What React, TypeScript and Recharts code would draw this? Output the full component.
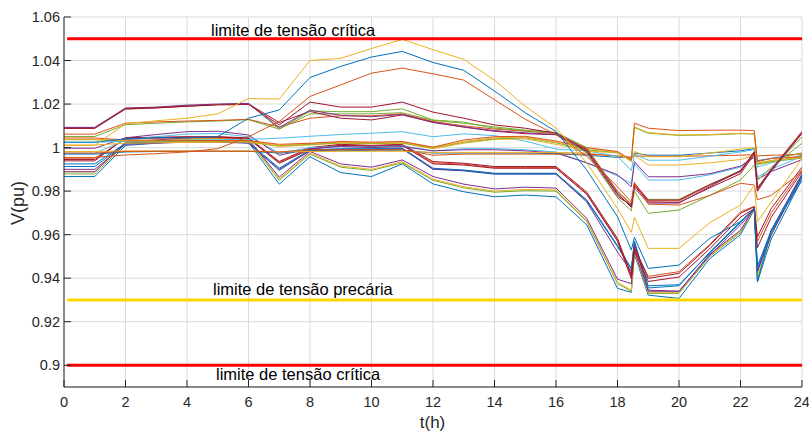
import React from 'react';
import { LineChart, Line, XAxis, YAxis, CartesianGrid, ReferenceLine } from 'recharts';

// time instants (h); the step at 18.5 h and 22.5 h is drawn with two close samples
const hours = [0, 1, 2, 3, 4, 5, 6, 7, 8, 9, 10, 11, 12, 13, 14, 15, 16, 17, 18, 18.45, 18.55, 19, 20, 21, 22, 22.45, 22.55, 23, 24];

const yellowPeak = [1.001, 1.001, 1.011, 1.0123, 1.0135, 1.0155, 1.0225, 1.0223, 1.040, 1.041, 1.0455, 1.0497, 1.045, 1.0405, 1.031, 1.019, 1.009, 0.993, 0.972, 0.961, 0.968, 0.9537, 0.9537, 0.9655, 0.9736, 0.9828, 0.966, 0.975, 0.995];
const bluePeak = [1.0025, 1.0025, 1.004, 1.0045, 1.0045, 1.005, 1.0135, 1.0173, 1.0322, 1.0373, 1.0416, 1.0442, 1.0391, 1.0355, 1.026, 1.016, 1.0074, 0.9897, 0.9682, 0.9529, 0.9588, 0.9445, 0.946, 0.9583, 0.966, 0.972, 0.9383, 0.962, 0.985];
const orangePeak = [0.9955, 0.9955, 0.9966, 0.9972, 0.998, 0.9995, 1.005, 1.012, 1.0235, 1.0288, 1.0342, 1.0365, 1.0339, 1.031, 1.022, 1.013, 1.006, 0.996, 0.982, 0.975, 0.984, 0.974, 0.9736, 0.978, 0.9836, 0.9828, 0.976, 0.978, 0.989];
const purpleTop = [1.0093, 1.0093, 1.0182, 1.0186, 1.0195, 1.020, 1.0203, 1.0092, 1.0172, 1.0148, 1.0142, 1.0152, 1.0115, 1.0095, 1.0078, 1.0068, 1.006, 0.9985, 0.9785, 0.973, 0.9815, 0.9745, 0.9745, 0.982, 0.9895, 0.998, 0.981, 0.989, 1.0065];
const greenTop = [1.009, 1.009, 1.018, 1.0185, 1.0192, 1.0198, 1.0202, 1.0085, 1.0168, 1.0165, 1.0165, 1.0178, 1.0127, 1.0117, 1.0089, 1.0078, 1.0066, 0.9975, 0.977, 0.971, 0.98, 0.9698, 0.9713, 0.978, 0.9851, 0.992, 0.985, 0.991, 1.002];
const redTop = [1.0088, 1.0088, 1.0178, 1.0183, 1.019, 1.0196, 1.0198, 1.0104, 1.0209, 1.0186, 1.0186, 1.0209, 1.0163, 1.0135, 1.0104, 1.0089, 1.0066, 0.999, 0.979, 0.9725, 0.9836, 0.9759, 0.9759, 0.983, 0.989, 0.9982, 0.9813, 0.99, 1.0066];
const redTop2 = [1.0092, 1.0092, 1.0177, 1.0182, 1.019, 1.0198, 1.0201, 1.0115, 1.0166, 1.0135, 1.0127, 1.015, 1.0117, 1.0094, 1.0075, 1.0064, 1.0059, 0.998, 0.9775, 0.9735, 0.9825, 0.975, 0.9748, 0.9815, 0.988, 0.997, 0.98, 0.9895, 1.007];
const orangeHigh = [1.0062, 1.0062, 1.0112, 1.0118, 1.0122, 1.0125, 1.013, 1.0095, 1.0135, 1.0146, 1.0146, 1.0155, 1.012, 1.01, 1.0085, 1.0075, 1.0065, 0.9995, 0.98, 0.974, 0.983, 0.9755, 0.9755, 0.9825, 0.989, 0.997, 0.98, 0.99, 1.0075];
const greenHigh = [1.0051, 1.0051, 1.0105, 1.0112, 1.0118, 1.0122, 1.0128, 1.0085, 1.0155, 1.0155, 1.0155, 1.016, 1.0125, 1.0112, 1.0095, 1.008, 1.007, 1.0, 0.9795, 0.9735, 0.983, 0.9762, 0.9762, 0.983, 0.9895, 0.998, 0.9815, 0.99, 1.005];
const orangeFlat = [1.0044, 1.0044, 1.0035, 1.0034, 1.0033, 1.0032, 1.0032, 1.0015, 1.002, 1.0028, 1.0025, 1.0028, 1.0002, 1.0035, 1.005, 1.0052, 1.003, 1.0, 0.9982, 0.9943, 1.0112, 1.0089, 1.0078, 1.008, 1.008, 1.0078, 0.9936, 0.995, 0.9958];
const yellowFlat = [1.0038, 1.0038, 1.0032, 1.0031, 1.003, 1.003, 1.003, 1.001, 1.0018, 1.0025, 1.0022, 1.0025, 1.0, 1.0028, 1.0045, 1.0048, 1.0025, 0.9995, 0.998, 0.9935, 1.0095, 1.0069, 1.0058, 1.006, 1.0066, 1.0064, 0.9929, 0.994, 0.9955];
const greenFlat = [1.0036, 1.0036, 1.003, 1.003, 1.0029, 1.0029, 1.0029, 1.0008, 1.0015, 1.0022, 1.002, 1.0022, 0.9998, 1.0025, 1.004, 1.0045, 1.0022, 0.999, 0.9978, 0.9938, 1.0092, 1.0066, 1.0056, 1.0058, 1.0064, 1.0062, 0.9925, 0.9935, 0.9952];
const yellowMid = [1.0012, 1.0012, 1.002, 1.0022, 1.0024, 1.0025, 1.0025, 1.0005, 1.0012, 1.002, 1.0018, 1.002, 0.9995, 1.002, 1.0038, 1.004, 1.0015, 0.9985, 0.9975, 0.9945, 0.9982, 0.9958, 0.9958, 0.9975, 0.9993, 1.0, 0.993, 0.994, 0.9975];
const lightBlueHigh = [1.0023, 1.0023, 1.003, 1.0032, 1.0034, 1.0036, 1.0038, 1.0043, 1.0052, 1.006, 1.0066, 1.0073, 1.005, 1.0063, 1.0055, 1.003, 0.9993, 0.9985, 0.996, 0.9895, 0.997, 0.9942, 0.9942, 0.996, 0.998, 0.999, 0.991, 0.993, 0.9965];
const orangeLevel = [0.9975, 0.9975, 0.9982, 0.9983, 0.9983, 0.9983, 0.9983, 0.998, 0.999, 0.999, 0.999, 0.999, 0.9965, 0.997, 0.997, 0.997, 0.997, 0.997, 0.9962, 0.9955, 0.9962, 0.996, 0.996, 0.9962, 0.9965, 0.9968, 0.9962, 0.9965, 0.9968];
const yellowLevel = [0.9982, 0.9982, 0.9985, 0.9985, 0.9985, 0.9985, 0.9985, 0.998, 0.9982, 0.9983, 0.9983, 0.9983, 0.9978, 0.9978, 0.9978, 0.9978, 0.9978, 0.9975, 0.996, 0.995, 0.9965, 0.992, 0.992, 0.993, 0.9945, 0.9965, 0.992, 0.9935, 0.996];
const blueLevel = [0.997, 0.997, 0.998, 0.9982, 0.9983, 0.9983, 0.9983, 0.9975, 0.9985, 0.9985, 0.9988, 0.9988, 0.9975, 0.9975, 0.9975, 0.9975, 0.9972, 0.9965, 0.9955, 0.9955, 0.9975, 0.9965, 0.9965, 0.9975, 0.9985, 0.9995, 0.994, 0.995, 0.9975];
const purpleMid = [0.9997, 0.9997, 1.0045, 1.006, 1.0073, 1.0075, 1.0058, 0.9965, 0.9995, 1.0005, 1.0, 1.0005, 0.9985, 0.999, 0.999, 0.9985, 0.9975, 0.993, 0.9875, 0.982, 0.9935, 0.9866, 0.9866, 0.988, 0.9915, 0.9955, 0.9855, 0.989, 0.9945];
const lightBlueMid = [0.9974, 0.9974, 1.0035, 1.005, 1.0062, 1.0065, 1.005, 0.9975, 1.0, 1.0005, 1.0002, 1.0008, 0.9985, 0.9995, 0.9995, 0.999, 0.998, 0.993, 0.987, 0.9835, 0.9925, 0.9851, 0.9851, 0.9875, 0.991, 0.9965, 0.9865, 0.99, 0.996];
const redLow = [0.9939, 0.9939, 1.0045, 1.0048, 1.005, 1.005, 1.0045, 0.9936, 1.0, 1.0015, 1.001, 1.0015, 0.9936, 0.9928, 0.9913, 0.9913, 0.9913, 0.9795, 0.9583, 0.9414, 0.9544, 0.9399, 0.9422, 0.955, 0.9698, 0.9728, 0.959, 0.972, 0.991];
const orangeLow = [0.9951, 0.9951, 1.004, 1.0043, 1.0045, 1.0045, 1.004, 0.9932, 0.9995, 1.0012, 1.0008, 1.0012, 0.993, 0.9924, 0.9908, 0.9908, 0.9908, 0.979, 0.9575, 0.9405, 0.9538, 0.9408, 0.943, 0.9555, 0.9705, 0.973, 0.957, 0.97, 0.99];
const redLow2 = [0.9945, 0.9945, 1.0042, 1.0045, 1.0048, 1.0048, 1.0042, 0.9928, 0.9992, 1.001, 1.0005, 1.001, 0.9925, 0.992, 0.9905, 0.9905, 0.9905, 0.9785, 0.957, 0.9398, 0.953, 0.9385, 0.9405, 0.9535, 0.968, 0.972, 0.954, 0.968, 0.989];
const blueLow = [0.9925, 0.9925, 1.002, 1.0025, 1.003, 1.003, 1.0025, 0.9905, 0.999, 0.9995, 0.9995, 0.9998, 0.9905, 0.9897, 0.9882, 0.9882, 0.9882, 0.976, 0.955, 0.9445, 0.957, 0.9355, 0.9365, 0.952, 0.966, 0.972, 0.9455, 0.962, 0.9875];
const blueLow2 = [0.9913, 0.9913, 1.0018, 1.0022, 1.0028, 1.0028, 1.0022, 0.9895, 0.9988, 0.9992, 0.9992, 0.9995, 0.9902, 0.9893, 0.9878, 0.9878, 0.9878, 0.9755, 0.9545, 0.944, 0.9565, 0.9365, 0.937, 0.9515, 0.9655, 0.9718, 0.9445, 0.961, 0.9865];
const purpleLow = [0.99, 0.99, 1.0015, 1.002, 1.0025, 1.0025, 1.002, 0.99, 0.9985, 0.999, 0.999, 0.9995, 0.99, 0.9895, 0.988, 0.988, 0.988, 0.975, 0.952, 0.943, 0.956, 0.934, 0.934, 0.9505, 0.9645, 0.9715, 0.943, 0.96, 0.987];
const purpleBottom = [0.9889, 0.9889, 1.0025, 1.0035, 1.0045, 1.0048, 1.004, 0.9864, 0.9982, 0.9925, 0.991, 0.9943, 0.9867, 0.9832, 0.981, 0.9818, 0.9814, 0.9675, 0.9395, 0.9375, 0.9525, 0.9345, 0.934, 0.951, 0.962, 0.9725, 0.943, 0.962, 0.988];
const yellowBottom = [0.9889, 0.9889, 1.002, 1.003, 1.004, 1.0042, 1.0035, 0.9855, 0.9975, 0.9915, 0.99, 0.9935, 0.9855, 0.982, 0.98, 0.9808, 0.9805, 0.9665, 0.938, 0.9345, 0.952, 0.9335, 0.9335, 0.9505, 0.9615, 0.972, 0.941, 0.96, 0.9875];
const greenBottom = [0.9879, 0.9879, 1.0018, 1.0028, 1.0038, 1.004, 1.0032, 0.985, 0.997, 0.991, 0.9895, 0.993, 0.985, 0.9815, 0.9795, 0.9802, 0.98, 0.966, 0.9375, 0.934, 0.9518, 0.933, 0.933, 0.95, 0.961, 0.9718, 0.94, 0.96, 0.987];
const blueBottom = [0.9867, 0.9867, 1.001, 1.002, 1.003, 1.0032, 1.0025, 0.9832, 0.9958, 0.9885, 0.9867, 0.9925, 0.9833, 0.9797, 0.9774, 0.9782, 0.9774, 0.9645, 0.9353, 0.9335, 0.951, 0.9322, 0.9307, 0.949, 0.96, 0.9715, 0.9383, 0.958, 0.9855];

// limits (pu)
const criticalHigh = 1.05;
const precarious = 0.93;
const criticalLow = 0.9;

const xTicks = [0, 2, 4, 6, 8, 10, 12, 14, 16, 18, 20, 22, 24];
const yTicks = [0.9, 0.92, 0.94, 0.96, 0.98, 1, 1.02, 1.04, 1.06];

const BLUE = '#0072BD';
const ORANGE = '#D95319';
const YELLOW = '#EDB120';
const PURPLE = '#7E2F8E';
const GREEN = '#77AC30';
const LBLUE = '#4DBEEE';
const DRED = '#A2142F';

const series = [
  { key: 'blueBottom', values: blueBottom, color: BLUE },
  { key: 'greenBottom', values: greenBottom, color: GREEN },
  { key: 'yellowBottom', values: yellowBottom, color: YELLOW },
  { key: 'purpleBottom', values: purpleBottom, color: PURPLE },
  { key: 'blueLow2', values: blueLow2, color: BLUE },
  { key: 'purpleLow', values: purpleLow, color: PURPLE },
  { key: 'blueLow', values: blueLow, color: BLUE },
  { key: 'orangeLow', values: orangeLow, color: ORANGE },
  { key: 'redLow2', values: redLow2, color: DRED },
  { key: 'redLow', values: redLow, color: DRED },
  { key: 'lightBlueMid', values: lightBlueMid, color: LBLUE },
  { key: 'purpleMid', values: purpleMid, color: PURPLE },
  { key: 'blueLevel', values: blueLevel, color: BLUE },
  { key: 'yellowLevel', values: yellowLevel, color: YELLOW },
  { key: 'orangeLevel', values: orangeLevel, color: ORANGE },
  { key: 'lightBlueHigh', values: lightBlueHigh, color: LBLUE },
  { key: 'yellowMid', values: yellowMid, color: YELLOW },
  { key: 'greenFlat', values: greenFlat, color: GREEN },
  { key: 'yellowFlat', values: yellowFlat, color: YELLOW },
  { key: 'orangeFlat', values: orangeFlat, color: ORANGE },
  { key: 'greenHigh', values: greenHigh, color: GREEN },
  { key: 'orangeHigh', values: orangeHigh, color: ORANGE },
  { key: 'redTop2', values: redTop2, color: DRED },
  { key: 'greenTop', values: greenTop, color: GREEN },
  { key: 'purpleTop', values: purpleTop, color: PURPLE },
  { key: 'redTop', values: redTop, color: DRED },
  { key: 'orangePeak', values: orangePeak, color: ORANGE },
  { key: 'bluePeak', values: bluePeak, color: BLUE },
  { key: 'yellowPeak', values: yellowPeak, color: YELLOW },
];

const rows = hours.map((t, i) => {
  const row: Record<string, number> = { t };
  series.forEach(s => { row[s.key] = s.values[i]; });
  return row;
});

const FONT = '"Liberation Sans", Arial, Helvetica, sans-serif';
const fmt = (v: number) => String(parseFloat(v.toFixed(2)));

const textStyle: React.CSSProperties = {
  position: 'absolute', fontFamily: FONT, fontSize: 16.5, lineHeight: '16px', color: '#000', whiteSpace: 'nowrap',
};

const App: React.FC = () => {
  return (
    <div style={{ position: 'relative', width: 809, height: 432, background: '#fff', overflow: 'hidden' }}>
      <style>{'body{margin:0}'}</style>
      <LineChart width={809} height={432} data={rows} margin={{ top: 17, right: 7, bottom: 0, left: 0 }}>
        <CartesianGrid stroke="#dadada" />
        <XAxis
          dataKey="t" type="number" domain={[0, 24]} ticks={xTicks} allowDataOverflow height={45}
          stroke="#262626" tickSize={-7} tickMargin={17}
          tick={{ fill: '#262626', fontSize: 14.5, fontFamily: FONT }}
        />
        <XAxis
          xAxisId="top" orientation="top" dataKey="t" type="number" domain={[0, 24]} ticks={xTicks}
          allowDataOverflow height={0} stroke="#262626" tickSize={-7} tick={false}
        />
        <YAxis
          type="number" domain={[0.89, 1.06]} ticks={yTicks} allowDataOverflow width={64}
          stroke="#262626" tickSize={-7} tickMargin={11} tickFormatter={fmt}
          tick={{ fill: '#262626', fontSize: 14.5, fontFamily: FONT }}
        />
        <YAxis
          yAxisId="right" orientation="right" type="number" domain={[0.89, 1.06]} ticks={yTicks}
          allowDataOverflow width={0} stroke="#262626" tickSize={-7} tick={false}
        />
        {series.map(s => (
          <Line
            key={s.key} dataKey={s.key} stroke={s.color} strokeWidth={1} dot={false}
            type="linear" isAnimationActive={false}
          />
        ))}
        <ReferenceLine segment={[{ x: 0.1, y: criticalHigh }, { x: 24, y: criticalHigh }]} stroke="#FF0000" strokeWidth={3} />
        <ReferenceLine segment={[{ x: 0.1, y: precarious }, { x: 24, y: precarious }]} stroke="#FFD700" strokeWidth={3} />
        <ReferenceLine segment={[{ x: 0.1, y: criticalLow }, { x: 24, y: criticalLow }]} stroke="#FF0000" strokeWidth={3} />
      </LineChart>

      <div style={{ ...textStyle, left: 211, top: 22 }}>limite de tensão crítica</div>
      <div style={{ ...textStyle, left: 213, top: 281 }}>limite de tensão precária</div>
      <div style={{ ...textStyle, left: 216, top: 366 }}>limite de tensão crítica</div>

      <div style={{ position: 'absolute', left: 0, top: 414, width: 809, textAlign: 'center', paddingLeft: 56, boxSizing: 'border-box', fontFamily: FONT, fontSize: 17, lineHeight: '17px', color: '#262626' }}>
        t(h)
      </div>
      <div style={{ position: 'absolute', left: 18, top: 203, transform: 'translate(-50%, -50%) rotate(-90deg)', fontFamily: FONT, fontSize: 18, lineHeight: '18px', color: '#262626', whiteSpace: 'nowrap' }}>
        V(pu)
      </div>
    </div>
  );
};

export default App;
